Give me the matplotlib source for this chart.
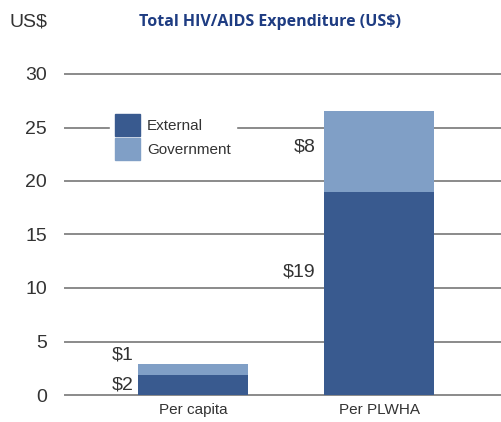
import matplotlib.pyplot as plt
import matplotlib.patches as mpatches

# data
categories = ['Per capita', 'Per PLWHA']
external = [1.9, 19.0]
government = [1.0, 7.5]
ext_labels = ['$2', '$19']
gov_labels = ['$1', '$8']
yticks = [0, 5, 10, 15, 20, 25, 30]

c_ext = '#395a8f'
c_gov = '#809fc6'
txt = '#333333'

plt.rcParams['font.family'] = ['Liberation Sans', 'DejaVu Sans']

fig = plt.figure(figsize=(5.02, 4.22), dpi=100)
W, H = 502, 422
ax = fig.add_axes([65 / W, (H - 395) / H, (W - 65) / W, (395 - 74) / H])

x = [0, 1]
ax.set_xlim(-0.686, 1.657)
ax.set_ylim(0, 30)

for y in yticks:
    ax.axhline(y, color='#8a8a8a', lw=1.4, zorder=1, clip_on=False)

ax.bar(x, external, width=0.59, color=c_ext, zorder=3)
ax.bar(x, government, width=0.59, bottom=external, color=c_gov, zorder=3)

# value labels to the left of the bars
ax.text(-0.32, external[0] / 2, ext_labels[0], ha='right', va='center', fontsize=14, color=txt, zorder=4)
ax.text(-0.32, 3.7, gov_labels[0], ha='right', va='center', fontsize=14, color=txt, zorder=4)
ax.text(0.655, 11.5, ext_labels[1], ha='right', va='center', fontsize=14, color=txt, zorder=4)
ax.text(0.655, 23.2, gov_labels[1], ha='right', va='center', fontsize=14, color=txt, zorder=4)

for s in ax.spines.values():
    s.set_visible(False)
ax.set_yticks(yticks)
ax.set_yticklabels([str(t) for t in yticks], fontsize=14, color=txt)
ax.tick_params(axis='y', length=0, pad=13)
ax.set_xticks(x)
ax.set_xticklabels(categories, fontsize=11, color=txt)
ax.tick_params(axis='x', length=0, pad=6)
ax.set_facecolor('none')

handles = [mpatches.Patch(color=c_ext, label='External'),
           mpatches.Patch(color=c_gov, label='Government')]
leg = ax.legend(handles=handles, loc='upper left', bbox_to_anchor=(0.085, 0.915),
                frameon=True, fontsize=11, handlelength=1.6, handleheight=1.8,
                handletextpad=0.5, labelspacing=0.15, borderpad=0.35, fancybox=False)
leg.get_frame().set_facecolor('white')
leg.get_frame().set_edgecolor('white')
leg.get_frame().set_alpha(1)
leg.set_zorder(5)
for t in leg.get_texts():
    t.set_color(txt)

fig.text(10 / W, 1 - 22 / H, 'US$', fontsize=14, color=txt, va='center', ha='left')
fig.text(270 / W, 1 - 22 / H, 'Total HIV/AIDS Expenditure (US$)', fontsize=11.5,
         fontweight='bold', color='#1e3c82', va='center', ha='center',
         family=['Open Sans', 'DejaVu Sans'])

fig.savefig('out.png', dpi=100)
